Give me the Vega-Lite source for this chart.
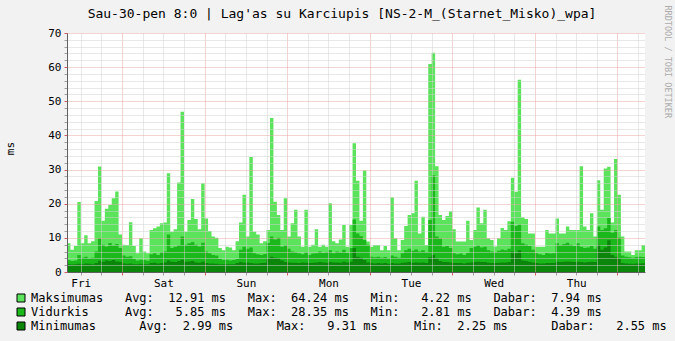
{
"$schema":"https://vega.github.io/schema/vega-lite/v6.json",
"width":578,"height":239,
"autosize":{"type":"none"},
"padding":{"left":67,"top":33,"right":30,"bottom":69},
"background":"#f2f2f2",
"config":{"view":{"fill":"#ffffff","stroke":null},"font":"DejaVu Sans Mono"},
"title":{"text":"Sau-30-pen 8:0 | Lag'as su Karciupis [NS-2-M_(Starnet_Misko)_wpa]","font":"DejaVu Sans Mono","fontSize":13,"fontWeight":"normal","color":"#000000","anchor":"middle","frame":"group","baseline":"middle","offset":0,"dx":-14,"dy":22},
"data":{"values":[
{"t":"2009-01-23T08:00","Maksimumas":8.4,"Vidurkis":3.5,"Minimumas":2.3},
{"t":"2009-01-23T09:00","Maksimumas":6.5,"Vidurkis":3.2,"Minimumas":2.2},
{"t":"2009-01-23T10:00","Maksimumas":7.6,"Vidurkis":3.4,"Minimumas":2.3},
{"t":"2009-01-23T11:00","Maksimumas":20.5,"Vidurkis":5.0,"Minimumas":2.4},
{"t":"2009-01-23T12:00","Maksimumas":8.4,"Vidurkis":4.2,"Minimumas":2.3},
{"t":"2009-01-23T13:00","Maksimumas":10.8,"Vidurkis":4.5,"Minimumas":2.5},
{"t":"2009-01-23T14:00","Maksimumas":8.4,"Vidurkis":4.0,"Minimumas":2.4},
{"t":"2009-01-23T15:00","Maksimumas":9.0,"Vidurkis":4.2,"Minimumas":2.3},
{"t":"2009-01-23T16:00","Maksimumas":20.8,"Vidurkis":6.0,"Minimumas":2.6},
{"t":"2009-01-23T17:00","Maksimumas":30.9,"Vidurkis":9.9,"Minimumas":3.3},
{"t":"2009-01-23T18:00","Maksimumas":15.0,"Vidurkis":8.0,"Minimumas":3.0},
{"t":"2009-01-23T19:00","Maksimumas":18.5,"Vidurkis":7.5,"Minimumas":3.4},
{"t":"2009-01-23T20:00","Maksimumas":19.6,"Vidurkis":8.5,"Minimumas":3.2},
{"t":"2009-01-23T21:00","Maksimumas":21.6,"Vidurkis":7.8,"Minimumas":3.5},
{"t":"2009-01-23T22:00","Maksimumas":23.6,"Vidurkis":8.2,"Minimumas":3.1},
{"t":"2009-01-23T23:00","Maksimumas":11.0,"Vidurkis":7.0,"Minimumas":3.0},
{"t":"2009-01-24T00:00","Maksimumas":8.0,"Vidurkis":4.8,"Minimumas":2.5},
{"t":"2009-01-24T01:00","Maksimumas":7.9,"Vidurkis":4.5,"Minimumas":2.4},
{"t":"2009-01-24T02:00","Maksimumas":14.6,"Vidurkis":4.6,"Minimumas":2.5},
{"t":"2009-01-24T03:00","Maksimumas":7.6,"Vidurkis":3.8,"Minimumas":2.3},
{"t":"2009-01-24T04:00","Maksimumas":5.5,"Vidurkis":3.4,"Minimumas":2.3},
{"t":"2009-01-24T05:00","Maksimumas":9.9,"Vidurkis":3.6,"Minimumas":2.4},
{"t":"2009-01-24T06:00","Maksimumas":6.0,"Vidurkis":3.5,"Minimumas":2.3},
{"t":"2009-01-24T07:00","Maksimumas":5.5,"Vidurkis":3.3,"Minimumas":2.3},
{"t":"2009-01-24T08:00","Maksimumas":12.3,"Vidurkis":5.2,"Minimumas":2.6},
{"t":"2009-01-24T09:00","Maksimumas":12.8,"Vidurkis":5.5,"Minimumas":2.7},
{"t":"2009-01-24T10:00","Maksimumas":13.3,"Vidurkis":5.0,"Minimumas":2.5},
{"t":"2009-01-24T11:00","Maksimumas":14.3,"Vidurkis":5.8,"Minimumas":2.6},
{"t":"2009-01-24T12:00","Maksimumas":14.5,"Vidurkis":6.0,"Minimumas":2.8},
{"t":"2009-01-24T13:00","Maksimumas":28.9,"Vidurkis":11.0,"Minimumas":3.4},
{"t":"2009-01-24T14:00","Maksimumas":11.8,"Vidurkis":7.0,"Minimumas":3.0},
{"t":"2009-01-24T15:00","Maksimumas":12.5,"Vidurkis":7.4,"Minimumas":2.9},
{"t":"2009-01-24T16:00","Maksimumas":26.2,"Vidurkis":7.8,"Minimumas":3.2},
{"t":"2009-01-24T17:00","Maksimumas":46.9,"Vidurkis":10.4,"Minimumas":3.6},
{"t":"2009-01-24T18:00","Maksimumas":11.8,"Vidurkis":8.0,"Minimumas":3.0},
{"t":"2009-01-24T19:00","Maksimumas":15.2,"Vidurkis":8.4,"Minimumas":3.1},
{"t":"2009-01-24T20:00","Maksimumas":21.4,"Vidurkis":8.8,"Minimumas":3.2},
{"t":"2009-01-24T21:00","Maksimumas":15.5,"Vidurkis":8.0,"Minimumas":2.8},
{"t":"2009-01-24T22:00","Maksimumas":12.5,"Vidurkis":7.5,"Minimumas":2.7},
{"t":"2009-01-24T23:00","Maksimumas":26.0,"Vidurkis":8.6,"Minimumas":3.0},
{"t":"2009-01-25T00:00","Maksimumas":15.7,"Vidurkis":6.0,"Minimumas":2.6},
{"t":"2009-01-25T01:00","Maksimumas":12.0,"Vidurkis":5.5,"Minimumas":2.5},
{"t":"2009-01-25T02:00","Maksimumas":10.4,"Vidurkis":5.0,"Minimumas":2.5},
{"t":"2009-01-25T03:00","Maksimumas":10.0,"Vidurkis":4.8,"Minimumas":2.4},
{"t":"2009-01-25T04:00","Maksimumas":7.0,"Vidurkis":3.8,"Minimumas":2.3},
{"t":"2009-01-25T05:00","Maksimumas":6.4,"Vidurkis":3.5,"Minimumas":2.3},
{"t":"2009-01-25T06:00","Maksimumas":7.4,"Vidurkis":3.6,"Minimumas":2.3},
{"t":"2009-01-25T07:00","Maksimumas":7.2,"Vidurkis":3.4,"Minimumas":2.25},
{"t":"2009-01-25T08:00","Maksimumas":6.4,"Vidurkis":3.5,"Minimumas":2.3},
{"t":"2009-01-25T09:00","Maksimumas":9.0,"Vidurkis":3.8,"Minimumas":2.6},
{"t":"2009-01-25T10:00","Maksimumas":14.5,"Vidurkis":6.5,"Minimumas":2.9},
{"t":"2009-01-25T11:00","Maksimumas":22.6,"Vidurkis":7.4,"Minimumas":2.7},
{"t":"2009-01-25T12:00","Maksimumas":10.4,"Vidurkis":6.8,"Minimumas":2.8},
{"t":"2009-01-25T13:00","Maksimumas":33.7,"Vidurkis":7.2,"Minimumas":2.6},
{"t":"2009-01-25T14:00","Maksimumas":11.8,"Vidurkis":5.5,"Minimumas":2.5},
{"t":"2009-01-25T15:00","Maksimumas":11.0,"Vidurkis":5.2,"Minimumas":2.5},
{"t":"2009-01-25T16:00","Maksimumas":8.4,"Vidurkis":5.0,"Minimumas":2.6},
{"t":"2009-01-25T17:00","Maksimumas":9.0,"Vidurkis":5.3,"Minimumas":2.7},
{"t":"2009-01-25T18:00","Maksimumas":12.3,"Vidurkis":8.5,"Minimumas":4.0},
{"t":"2009-01-25T19:00","Maksimumas":45.1,"Vidurkis":10.4,"Minimumas":4.5},
{"t":"2009-01-25T20:00","Maksimumas":20.6,"Vidurkis":9.5,"Minimumas":4.2},
{"t":"2009-01-25T21:00","Maksimumas":16.7,"Vidurkis":10.0,"Minimumas":4.0},
{"t":"2009-01-25T22:00","Maksimumas":12.3,"Vidurkis":7.4,"Minimumas":3.4},
{"t":"2009-01-25T23:00","Maksimumas":21.6,"Vidurkis":7.8,"Minimumas":2.9},
{"t":"2009-01-26T00:00","Maksimumas":10.4,"Vidurkis":6.8,"Minimumas":2.8},
{"t":"2009-01-26T01:00","Maksimumas":14.3,"Vidurkis":6.0,"Minimumas":2.7},
{"t":"2009-01-26T02:00","Maksimumas":18.2,"Vidurkis":5.8,"Minimumas":2.7},
{"t":"2009-01-26T03:00","Maksimumas":10.4,"Vidurkis":5.5,"Minimumas":2.6},
{"t":"2009-01-26T04:00","Maksimumas":7.4,"Vidurkis":5.2,"Minimumas":2.8},
{"t":"2009-01-26T05:00","Maksimumas":18.2,"Vidurkis":5.8,"Minimumas":2.7},
{"t":"2009-01-26T06:00","Maksimumas":7.4,"Vidurkis":5.0,"Minimumas":2.6},
{"t":"2009-01-26T07:00","Maksimumas":8.0,"Vidurkis":5.4,"Minimumas":2.7},
{"t":"2009-01-26T08:00","Maksimumas":12.5,"Vidurkis":5.5,"Minimumas":2.8},
{"t":"2009-01-26T09:00","Maksimumas":7.4,"Vidurkis":6.0,"Minimumas":2.9},
{"t":"2009-01-26T10:00","Maksimumas":8.0,"Vidurkis":5.6,"Minimumas":2.8},
{"t":"2009-01-26T11:00","Maksimumas":7.4,"Vidurkis":5.8,"Minimumas":2.7},
{"t":"2009-01-26T12:00","Maksimumas":20.1,"Vidurkis":6.4,"Minimumas":2.9},
{"t":"2009-01-26T13:00","Maksimumas":9.0,"Vidurkis":5.5,"Minimumas":2.8},
{"t":"2009-01-26T14:00","Maksimumas":8.4,"Vidurkis":6.0,"Minimumas":2.8},
{"t":"2009-01-26T15:00","Maksimumas":9.5,"Vidurkis":5.8,"Minimumas":2.7},
{"t":"2009-01-26T16:00","Maksimumas":13.8,"Vidurkis":6.5,"Minimumas":3.0},
{"t":"2009-01-26T17:00","Maksimumas":7.4,"Vidurkis":5.6,"Minimumas":2.8},
{"t":"2009-01-26T18:00","Maksimumas":13.8,"Vidurkis":7.0,"Minimumas":3.0},
{"t":"2009-01-26T19:00","Maksimumas":37.7,"Vidurkis":15.4,"Minimumas":7.0},
{"t":"2009-01-26T20:00","Maksimumas":26.7,"Vidurkis":11.3,"Minimumas":4.5},
{"t":"2009-01-26T21:00","Maksimumas":15.0,"Vidurkis":10.5,"Minimumas":4.2},
{"t":"2009-01-26T22:00","Maksimumas":29.7,"Vidurkis":9.4,"Minimumas":3.5},
{"t":"2009-01-26T23:00","Maksimumas":8.9,"Vidurkis":8.0,"Minimumas":2.8},
{"t":"2009-01-27T00:00","Maksimumas":7.4,"Vidurkis":4.5,"Minimumas":2.6},
{"t":"2009-01-27T01:00","Maksimumas":7.9,"Vidurkis":4.3,"Minimumas":2.5},
{"t":"2009-01-27T02:00","Maksimumas":7.9,"Vidurkis":4.5,"Minimumas":2.6},
{"t":"2009-01-27T03:00","Maksimumas":6.4,"Vidurkis":4.2,"Minimumas":2.5},
{"t":"2009-01-27T04:00","Maksimumas":7.6,"Vidurkis":4.4,"Minimumas":2.6},
{"t":"2009-01-27T05:00","Maksimumas":6.4,"Vidurkis":4.0,"Minimumas":2.4},
{"t":"2009-01-27T06:00","Maksimumas":21.9,"Vidurkis":4.8,"Minimumas":2.6},
{"t":"2009-01-27T07:00","Maksimumas":9.9,"Vidurkis":4.5,"Minimumas":2.5},
{"t":"2009-01-27T08:00","Maksimumas":6.4,"Vidurkis":4.2,"Minimumas":2.5},
{"t":"2009-01-27T09:00","Maksimumas":9.4,"Vidurkis":5.5,"Minimumas":2.7},
{"t":"2009-01-27T10:00","Maksimumas":13.5,"Vidurkis":6.4,"Minimumas":2.8},
{"t":"2009-01-27T11:00","Maksimumas":16.7,"Vidurkis":6.8,"Minimumas":2.9},
{"t":"2009-01-27T12:00","Maksimumas":17.2,"Vidurkis":6.2,"Minimumas":2.7},
{"t":"2009-01-27T13:00","Maksimumas":26.7,"Vidurkis":6.6,"Minimumas":2.8},
{"t":"2009-01-27T14:00","Maksimumas":11.3,"Vidurkis":6.0,"Minimumas":2.7},
{"t":"2009-01-27T15:00","Maksimumas":16.2,"Vidurkis":6.4,"Minimumas":2.8},
{"t":"2009-01-27T16:00","Maksimumas":7.9,"Vidurkis":5.8,"Minimumas":2.6},
{"t":"2009-01-27T17:00","Maksimumas":60.9,"Vidurkis":15.2,"Minimumas":4.3},
{"t":"2009-01-27T18:00","Maksimumas":64.24,"Vidurkis":28.35,"Minimumas":5.0},
{"t":"2009-01-27T19:00","Maksimumas":31.0,"Vidurkis":10.4,"Minimumas":4.0},
{"t":"2009-01-27T20:00","Maksimumas":16.7,"Vidurkis":9.8,"Minimumas":3.2},
{"t":"2009-01-27T21:00","Maksimumas":15.2,"Vidurkis":7.4,"Minimumas":2.9},
{"t":"2009-01-27T22:00","Maksimumas":16.4,"Vidurkis":7.6,"Minimumas":2.9},
{"t":"2009-01-27T23:00","Maksimumas":17.8,"Vidurkis":7.0,"Minimumas":2.8},
{"t":"2009-01-28T00:00","Maksimumas":12.5,"Vidurkis":5.5,"Minimumas":2.6},
{"t":"2009-01-28T01:00","Maksimumas":8.9,"Vidurkis":5.2,"Minimumas":2.6},
{"t":"2009-01-28T02:00","Maksimumas":8.9,"Vidurkis":5.4,"Minimumas":2.6},
{"t":"2009-01-28T03:00","Maksimumas":8.9,"Vidurkis":5.0,"Minimumas":2.5},
{"t":"2009-01-28T04:00","Maksimumas":15.0,"Vidurkis":5.6,"Minimumas":2.7},
{"t":"2009-01-28T05:00","Maksimumas":9.4,"Vidurkis":7.0,"Minimumas":2.8},
{"t":"2009-01-28T06:00","Maksimumas":12.3,"Vidurkis":7.4,"Minimumas":2.9},
{"t":"2009-01-28T07:00","Maksimumas":18.9,"Vidurkis":7.8,"Minimumas":3.0},
{"t":"2009-01-28T08:00","Maksimumas":14.3,"Vidurkis":7.2,"Minimumas":2.9},
{"t":"2009-01-28T09:00","Maksimumas":18.2,"Vidurkis":7.4,"Minimumas":2.9},
{"t":"2009-01-28T10:00","Maksimumas":9.9,"Vidurkis":6.4,"Minimumas":2.7},
{"t":"2009-01-28T11:00","Maksimumas":9.4,"Vidurkis":6.0,"Minimumas":2.6},
{"t":"2009-01-28T12:00","Maksimumas":7.5,"Vidurkis":5.8,"Minimumas":2.6},
{"t":"2009-01-28T13:00","Maksimumas":9.9,"Vidurkis":6.2,"Minimumas":2.7},
{"t":"2009-01-28T14:00","Maksimumas":12.9,"Vidurkis":6.6,"Minimumas":2.8},
{"t":"2009-01-28T15:00","Maksimumas":12.3,"Vidurkis":6.4,"Minimumas":2.8},
{"t":"2009-01-28T16:00","Maksimumas":14.9,"Vidurkis":6.8,"Minimumas":2.9},
{"t":"2009-01-28T17:00","Maksimumas":27.6,"Vidurkis":14.7,"Minimumas":6.0},
{"t":"2009-01-28T18:00","Maksimumas":23.5,"Vidurkis":13.5,"Minimumas":5.5},
{"t":"2009-01-28T19:00","Maksimumas":56.3,"Vidurkis":14.0,"Minimumas":6.4},
{"t":"2009-01-28T20:00","Maksimumas":16.0,"Vidurkis":8.4,"Minimumas":3.4},
{"t":"2009-01-28T21:00","Maksimumas":15.5,"Vidurkis":8.0,"Minimumas":3.2},
{"t":"2009-01-28T22:00","Maksimumas":11.3,"Vidurkis":7.6,"Minimumas":3.0},
{"t":"2009-01-28T23:00","Maksimumas":11.3,"Vidurkis":6.5,"Minimumas":2.8},
{"t":"2009-01-29T00:00","Maksimumas":7.4,"Vidurkis":5.5,"Minimumas":2.6},
{"t":"2009-01-29T01:00","Maksimumas":7.4,"Vidurkis":5.2,"Minimumas":2.5},
{"t":"2009-01-29T02:00","Maksimumas":7.4,"Vidurkis":5.0,"Minimumas":2.5},
{"t":"2009-01-29T03:00","Maksimumas":12.3,"Vidurkis":5.6,"Minimumas":2.6},
{"t":"2009-01-29T04:00","Maksimumas":11.3,"Vidurkis":5.4,"Minimumas":2.6},
{"t":"2009-01-29T05:00","Maksimumas":11.3,"Vidurkis":5.5,"Minimumas":2.6},
{"t":"2009-01-29T06:00","Maksimumas":15.7,"Vidurkis":8.4,"Minimumas":3.0},
{"t":"2009-01-29T07:00","Maksimumas":11.3,"Vidurkis":7.8,"Minimumas":2.9},
{"t":"2009-01-29T08:00","Maksimumas":11.3,"Vidurkis":8.2,"Minimumas":3.0},
{"t":"2009-01-29T09:00","Maksimumas":13.3,"Vidurkis":8.6,"Minimumas":3.1},
{"t":"2009-01-29T10:00","Maksimumas":12.3,"Vidurkis":8.0,"Minimumas":3.0},
{"t":"2009-01-29T11:00","Maksimumas":12.3,"Vidurkis":7.6,"Minimumas":2.9},
{"t":"2009-01-29T12:00","Maksimumas":12.3,"Vidurkis":8.4,"Minimumas":3.0},
{"t":"2009-01-29T13:00","Maksimumas":31.0,"Vidurkis":7.4,"Minimumas":2.9},
{"t":"2009-01-29T14:00","Maksimumas":13.3,"Vidurkis":7.0,"Minimumas":2.8},
{"t":"2009-01-29T15:00","Maksimumas":12.3,"Vidurkis":7.2,"Minimumas":2.9},
{"t":"2009-01-29T16:00","Maksimumas":17.2,"Vidurkis":7.6,"Minimumas":3.0},
{"t":"2009-01-29T17:00","Maksimumas":10.4,"Vidurkis":6.8,"Minimumas":2.9},
{"t":"2009-01-29T18:00","Maksimumas":26.9,"Vidurkis":13.3,"Minimumas":8.0},
{"t":"2009-01-29T19:00","Maksimumas":18.2,"Vidurkis":12.3,"Minimumas":6.5},
{"t":"2009-01-29T20:00","Maksimumas":30.3,"Vidurkis":12.8,"Minimumas":7.2},
{"t":"2009-01-29T21:00","Maksimumas":30.8,"Vidurkis":15.8,"Minimumas":9.31},
{"t":"2009-01-29T22:00","Maksimumas":14.5,"Vidurkis":11.5,"Minimumas":5.0},
{"t":"2009-01-29T23:00","Maksimumas":33.1,"Vidurkis":12.3,"Minimumas":4.5},
{"t":"2009-01-30T00:00","Maksimumas":22.6,"Vidurkis":10.0,"Minimumas":4.0},
{"t":"2009-01-30T01:00","Maksimumas":10.4,"Vidurkis":4.8,"Minimumas":2.6},
{"t":"2009-01-30T02:00","Maksimumas":6.0,"Vidurkis":4.5,"Minimumas":2.5},
{"t":"2009-01-30T03:00","Maksimumas":6.0,"Vidurkis":4.3,"Minimumas":2.4},
{"t":"2009-01-30T04:00","Maksimumas":5.0,"Vidurkis":4.2,"Minimumas":2.4},
{"t":"2009-01-30T05:00","Maksimumas":6.4,"Vidurkis":4.4,"Minimumas":2.5},
{"t":"2009-01-30T06:00","Maksimumas":6.4,"Vidurkis":4.5,"Minimumas":2.5},
{"t":"2009-01-30T07:00","Maksimumas":7.94,"Vidurkis":4.39,"Minimumas":2.55},
{"t":"2009-01-30T08:00","Maksimumas":7.94,"Vidurkis":4.39,"Minimumas":2.55}
]},
"transform":[{"fold":["Maksimumas","Vidurkis","Minimumas"],"as":["series","v"]}],
"mark":{"type":"area","interpolate":"step-after","opacity":1},
"encoding":{
 "x":{"field":"t","type":"temporal",
  "scale":{"domain":[{"year":2009,"month":1,"date":23,"hours":8},{"year":2009,"month":1,"date":30,"hours":8}],"nice":false},
  "axis":{"zindex":1,
   "title":"RRDTOOL / TOBI OETIKER","titleAngle":90,"titleX":600,"titleY":-267,"titleAlign":"left","titleBaseline":"middle",
   "titleFont":"DejaVu Sans Mono","titleFontSize":8.5,"titleFontWeight":"normal","titleColor":"#ababab",
   "values":[
    {"year":2009,"month":1,"date":23,"hours":12},{"year":2009,"month":1,"date":23,"hours":18},
    {"year":2009,"month":1,"date":24,"hours":0},{"year":2009,"month":1,"date":24,"hours":6},{"year":2009,"month":1,"date":24,"hours":12},{"year":2009,"month":1,"date":24,"hours":18},
    {"year":2009,"month":1,"date":25,"hours":0},{"year":2009,"month":1,"date":25,"hours":6},{"year":2009,"month":1,"date":25,"hours":12},{"year":2009,"month":1,"date":25,"hours":18},
    {"year":2009,"month":1,"date":26,"hours":0},{"year":2009,"month":1,"date":26,"hours":6},{"year":2009,"month":1,"date":26,"hours":12},{"year":2009,"month":1,"date":26,"hours":18},
    {"year":2009,"month":1,"date":27,"hours":0},{"year":2009,"month":1,"date":27,"hours":6},{"year":2009,"month":1,"date":27,"hours":12},{"year":2009,"month":1,"date":27,"hours":18},
    {"year":2009,"month":1,"date":28,"hours":0},{"year":2009,"month":1,"date":28,"hours":6},{"year":2009,"month":1,"date":28,"hours":12},{"year":2009,"month":1,"date":28,"hours":18},
    {"year":2009,"month":1,"date":29,"hours":0},{"year":2009,"month":1,"date":29,"hours":6},{"year":2009,"month":1,"date":29,"hours":12},{"year":2009,"month":1,"date":29,"hours":18},
    {"year":2009,"month":1,"date":30,"hours":0},{"year":2009,"month":1,"date":30,"hours":6}],
   "labelExpr":"hours(datum.value) == 12 ? timeFormat(datum.value, '%a') : ''",
   "labelFont":"DejaVu Sans Mono","labelFontSize":11,"labelColor":"#000000","labelPadding":2,"labelOverlap":false,"labelFlush":false,
   "grid":true,"gridDash":[1,1],"gridWidth":1,
   "gridColor":{"condition":{"test":"hours(datum.value) == 0","value":"#e8a6a6"},"value":"#d0d0d0"},
   "ticks":true,"tickSize":3,
   "tickColor":{"condition":{"test":"hours(datum.value) == 0","value":"#d06060"},"value":"#a0a0a0"},
   "domain":true,"domainColor":"#606060","domainWidth":1}},
 "y":{"field":"v","type":"quantitative","stack":null,"scale":{"domain":[0,70],"nice":false},
  "axis":{"title":"ms","zindex":1,"values":[0,2,4,6,8,10,12,14,16,18,20,22,24,26,28,30,32,34,36,38,40,42,44,46,48,50,52,54,56,58,60,62,64,66,68,70],
   "labelExpr":"datum.value % 10 == 0 ? datum.label : ''","labelOverlap":false,
   "labelFont":"DejaVu Sans Mono","labelFontSize":11,"labelColor":"#000000","labelPadding":3,
   "grid":true,"gridDash":[1,1],"gridWidth":1,
   "gridColor":{"condition":{"test":"datum.value % 10 == 0","value":"#e8a6a6"},"value":"#d0d0d0"},
   "tickSize":3,
   "tickColor":{"condition":{"test":"datum.value % 10 == 0","value":"#d06060"},"value":"#a0a0a0"},
   "domainColor":"#606060","domainWidth":1,
   "titleFont":"DejaVu Sans Mono","titleFontSize":11,"titleFontWeight":"normal","titleColor":"#000000",
   "titleX":-57,"titleY":115,"titleAlign":"center","titleBaseline":"middle"}},
 "color":{"field":"series","type":"nominal","scale":{"domain":["Maksimumas","Vidurkis","Minimumas"],"range":["#5be35b","#1bb81b","#0b860b"]},
  "legend":{"orient":"none","legendX":-52,"legendY":259,"direction":"vertical","title":null,
   "symbolType":"square","symbolSize":64,"symbolStrokeColor":"#000000","symbolStrokeWidth":1,
   "labelFont":"DejaVu Sans Mono","labelFontSize":12,"labelColor":"#000000","labelLimit":0,"labelOffset":4,"rowPadding":2,
   "labelExpr":"datum.label == 'Maksimumas' ? 'Maksimumas\u00a0\u00a0\u00a0Avg:\u00a0\u00a012.91\u00a0ms\u00a0\u00a0\u00a0Max:\u00a0\u00a064.24\u00a0ms\u00a0\u00a0\u00a0Min:\u00a0\u00a0\u00a04.22\u00a0ms\u00a0\u00a0\u00a0Dabar:\u00a0\u00a07.94\u00a0ms' : datum.label == 'Vidurkis' ? 'Vidurkis\u00a0\u00a0\u00a0\u00a0\u00a0Avg:\u00a0\u00a0\u00a05.85\u00a0ms\u00a0\u00a0\u00a0Max:\u00a0\u00a028.35\u00a0ms\u00a0\u00a0\u00a0Min:\u00a0\u00a0\u00a02.81\u00a0ms\u00a0\u00a0\u00a0Dabar:\u00a0\u00a04.39\u00a0ms' : 'Minimumas\u00a0\u00a0\u00a0\u00a0\u00a0\u00a0Avg:\u00a0\u00a02.99\u00a0ms\u00a0\u00a0\u00a0\u00a0\u00a0\u00a0Max:\u00a0\u00a0\u00a09.31\u00a0ms\u00a0\u00a0\u00a0\u00a0\u00a0Min:\u00a0\u00a02.25\u00a0ms\u00a0\u00a0\u00a0\u00a0\u00a0\u00a0Dabar:\u00a0\u00a0\u00a02.55\u00a0ms'"}}
}
}
